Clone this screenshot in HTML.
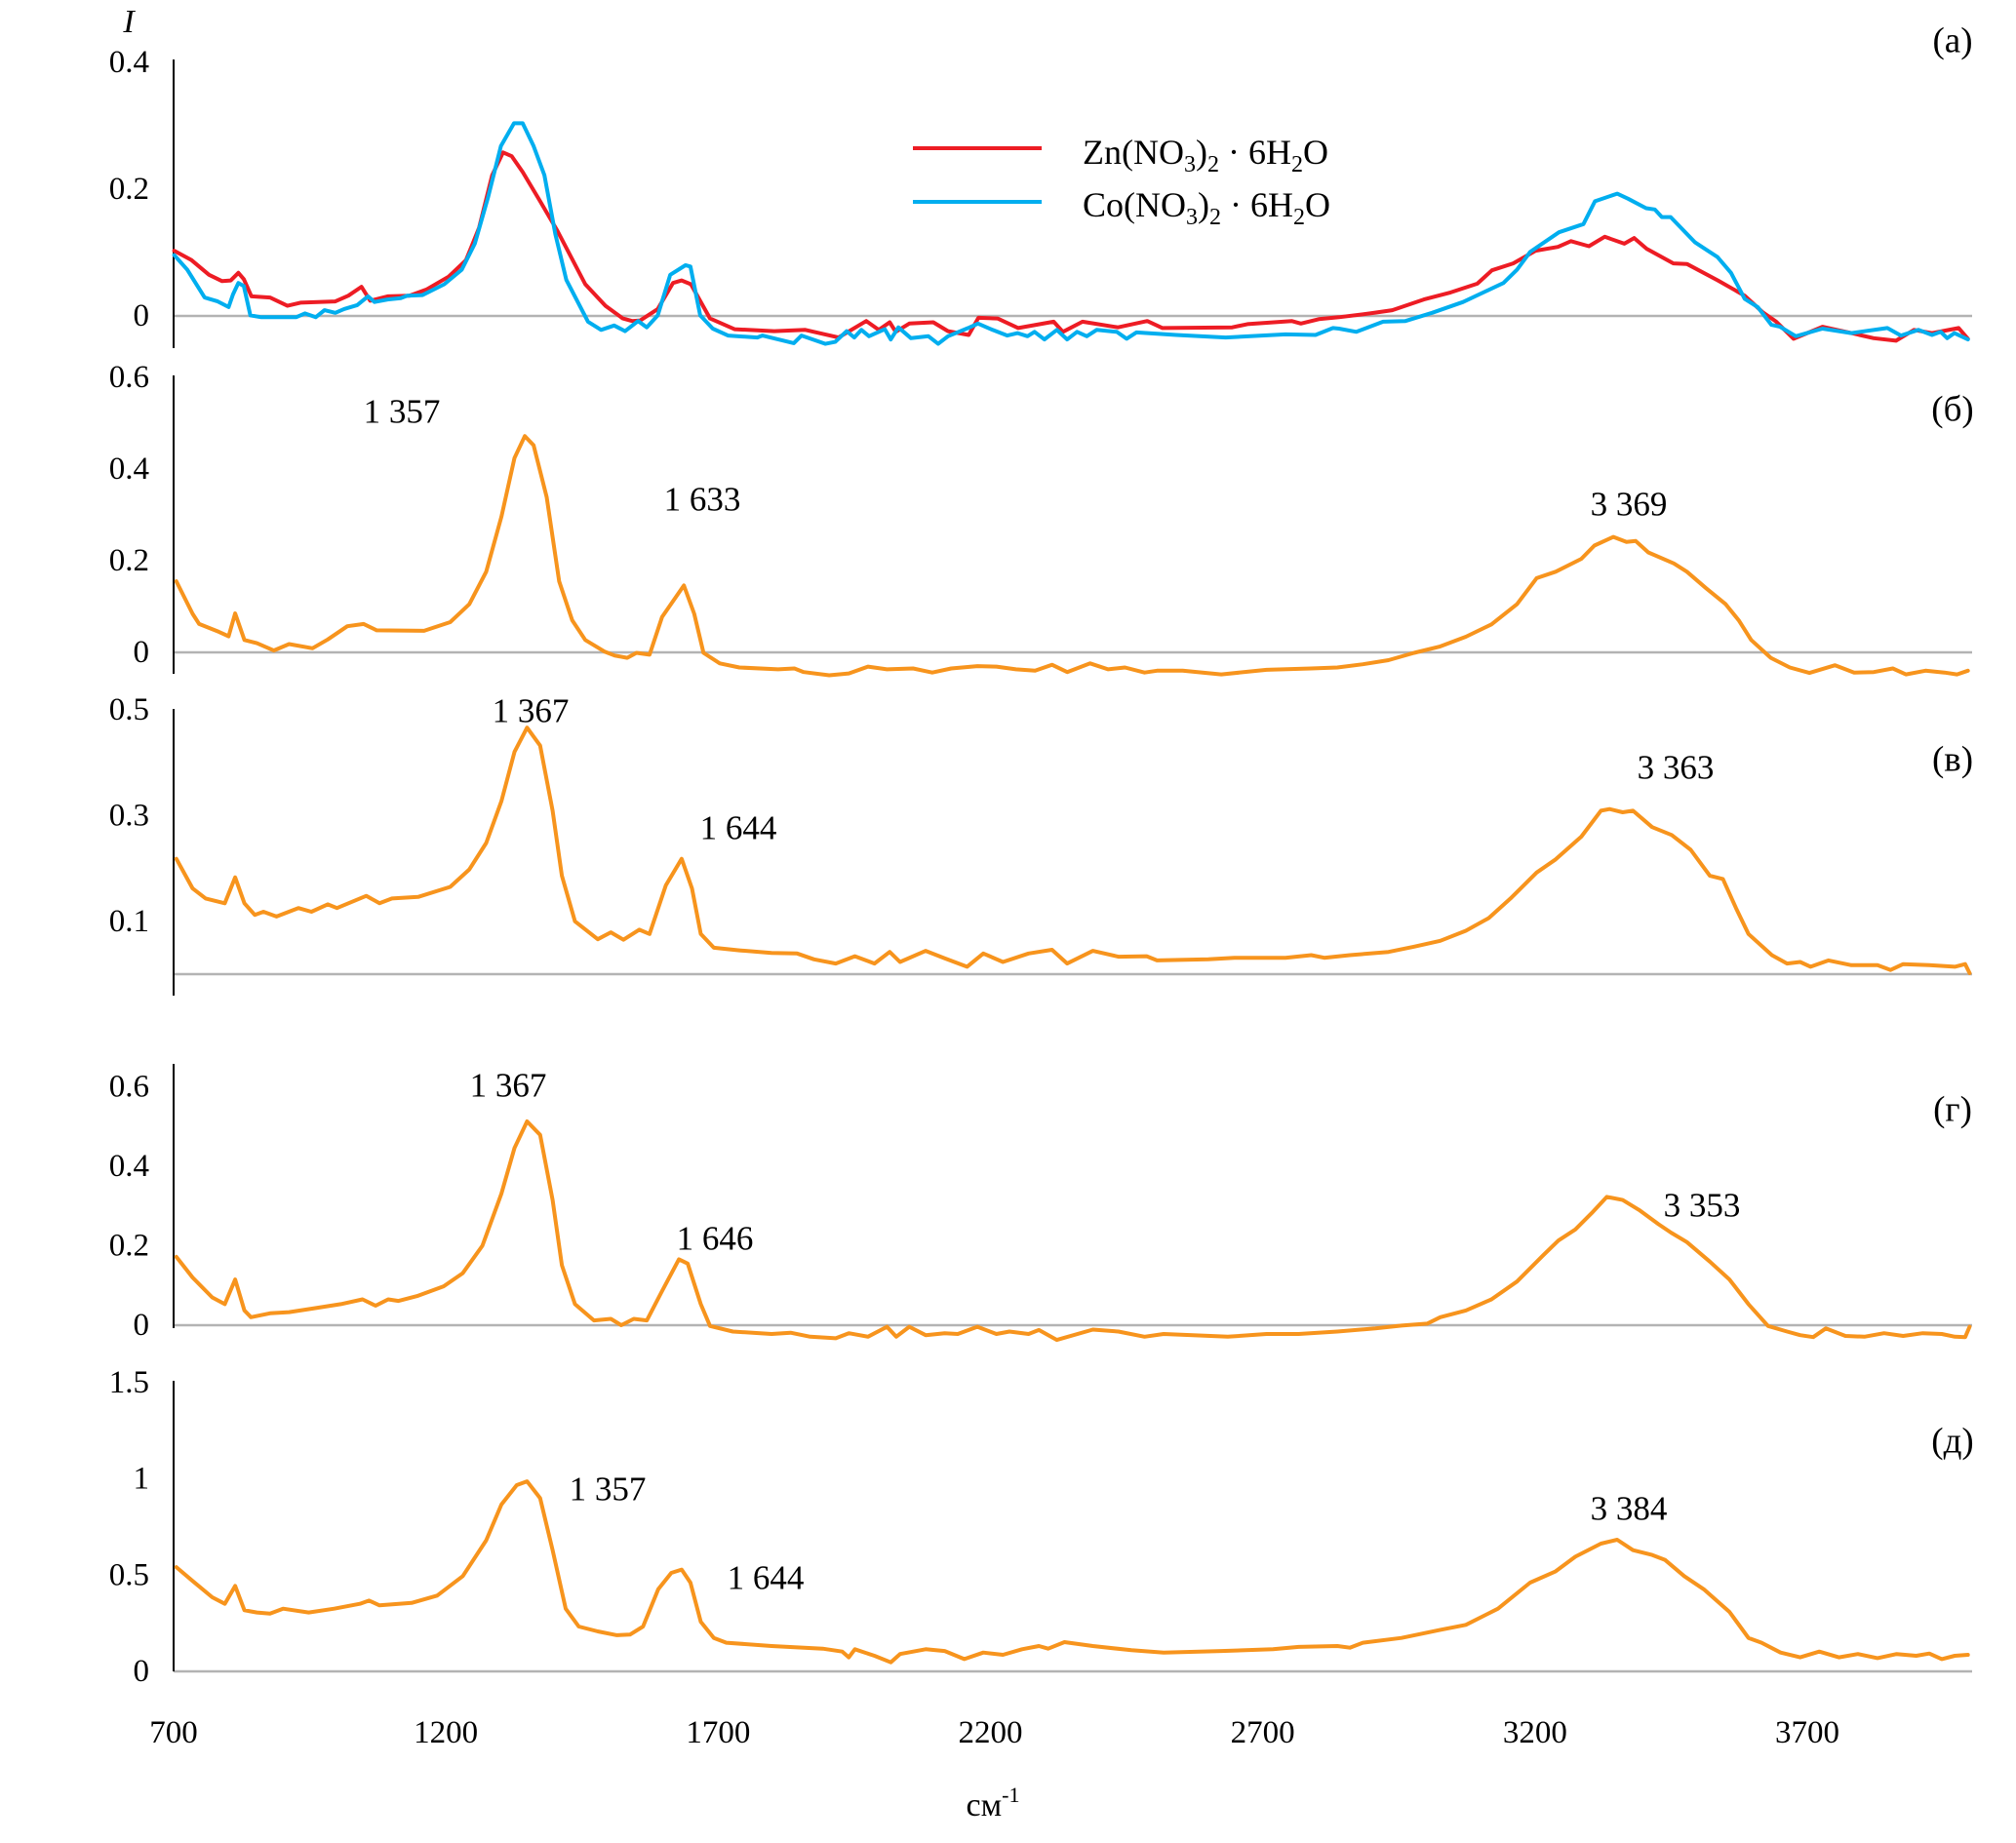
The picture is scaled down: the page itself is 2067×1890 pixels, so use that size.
<!DOCTYPE html>
<html><head><meta charset="utf-8"><style>
html,body{margin:0;padding:0;background:#fff;}
svg{display:block;}
svg text{font-family:"Liberation Serif","Times New Roman",serif;}
</style></head><body>
<svg id="chart" width="2067" height="1890" viewBox="0 0 2067 1890" xmlns="http://www.w3.org/2000/svg" font-family="Liberation Serif, serif">
<g id="panels"></g>
<g id="legend">
  <line x1="936" y1="152" x2="1068" y2="152" stroke="#ed1c24" stroke-width="4"/>
  <text x="1110" y="168" font-size="36">Zn(NO<tspan font-size="24" dy="8">3</tspan><tspan dy="-8">)</tspan><tspan font-size="24" dy="8">2</tspan><tspan dy="-8"> · 6H</tspan><tspan font-size="24" dy="8">2</tspan><tspan dy="-8">O</tspan></text>
  <line x1="936" y1="207" x2="1068" y2="207" stroke="#00aeef" stroke-width="4"/>
  <text x="1110" y="222" font-size="36">Co(NO<tspan font-size="24" dy="8">3</tspan><tspan dy="-8">)</tspan><tspan font-size="24" dy="8">2</tspan><tspan dy="-8"> · 6H</tspan><tspan font-size="24" dy="8">2</tspan><tspan dy="-8">O</tspan></text>
</g>
<text x="132" y="33" font-size="34" font-style="italic" text-anchor="middle">I</text>
<text x="1018" y="1862" font-size="34" text-anchor="middle">см<tspan font-size="22" dy="-14">-1</tspan></text>
<g id="xticks"></g>
</svg>
<script>
const xTicks=[700,1200,1700,2200,2700,3200,3700];
const redW=[701,733,765,789,805,819,829,843,877,909,933,997,1021,1045,1061,1093,1133,1165,1205,1237,1261,1285,1305,1321,1341,1373,1405,1456,1493,1525,1542,1557,1589,1617,1633,1650,1685,1730,1803,1860,1921,1972,1995,2015,2026,2051,2095,2122,2160,2178,2213,2251,2316,2333,2369,2434,2488,2516,2644,2672,2753,2770,2803,2840,2897,2938,2996,3045,3094,3121,3160,3201,3242,3266,3299,3328,3364,3382,3405,3454,3479,3536,3585,3618,3643,3675,3728,3781,3822,3863,3896,3929,3978,3995];
const redV=[0.103,0.088,0.065,0.055,0.056,0.068,0.058,0.031,0.029,0.016,0.021,0.023,0.032,0.046,0.024,0.031,0.032,0.042,0.062,0.088,0.139,0.222,0.258,0.252,0.227,0.181,0.134,0.05,0.016,-0.004,-0.008,-0.007,0.011,0.052,0.056,0.05,-0.004,-0.021,-0.024,-0.022,-0.034,-0.008,-0.022,-0.010,-0.025,-0.012,-0.010,-0.024,-0.030,-0.003,-0.004,-0.019,-0.009,-0.025,-0.009,-0.018,-0.008,-0.019,-0.018,-0.013,-0.008,-0.012,-0.005,-0.002,0.004,0.009,0.026,0.037,0.051,0.072,0.083,0.103,0.109,0.118,0.11,0.125,0.114,0.123,0.106,0.083,0.082,0.056,0.032,0.006,-0.009,-0.036,-0.017,-0.027,-0.035,-0.039,-0.022,-0.027,-0.019,-0.036];
const blueW=[701,725,757,765,781,801,809,819,829,841,861,925,941,961,977,997,1013,1037,1057,1069,1093,1117,1129,1157,1197,1229,1253,1277,1301,1325,1341,1361,1381,1401,1421,1461,1485,1509,1529,1553,1569,1589,1612,1640,1649,1667,1690,1718,1772,1781,1839,1853,1897,1915,1936,1950,1963,1977,2006,2017,2031,2054,2086,2104,2122,2159,2177,2204,2231,2250,2268,2281,2299,2322,2341,2359,2377,2395,2432,2450,2468,2541,2632,2742,2797,2829,2840,2872,2921,2962,3011,3068,3142,3167,3191,3244,3289,3310,3351,3371,3404,3420,3433,3449,3494,3535,3560,3585,3609,3634,3650,3679,3728,3781,3847,3872,3904,3929,3945,3957,3970,3995];
const blueV=[0.096,0.073,0.029,0.027,0.023,0.014,0.034,0.052,0.047,0.001,-0.002,-0.002,0.004,-0.002,0.009,0.005,0.011,0.017,0.031,0.022,0.026,0.028,0.032,0.033,0.05,0.073,0.114,0.186,0.268,0.304,0.304,0.268,0.222,0.129,0.057,-0.009,-0.022,-0.015,-0.024,-0.008,-0.018,0.001,0.065,0.08,0.078,0.001,-0.02,-0.031,-0.034,-0.031,-0.043,-0.031,-0.044,-0.041,-0.024,-0.034,-0.022,-0.032,-0.021,-0.037,-0.018,-0.035,-0.032,-0.044,-0.032,-0.019,-0.012,-0.022,-0.031,-0.027,-0.032,-0.025,-0.037,-0.022,-0.037,-0.025,-0.032,-0.022,-0.025,-0.036,-0.026,-0.03,-0.034,-0.029,-0.03,-0.019,-0.02,-0.025,-0.009,-0.008,0.005,0.022,0.052,0.073,0.101,0.132,0.145,0.181,0.193,0.185,0.17,0.168,0.156,0.156,0.116,0.093,0.068,0.027,0.014,-0.014,-0.017,-0.032,-0.02,-0.027,-0.019,-0.031,-0.022,-0.03,-0.025,-0.035,-0.027,-0.037];
const bW=[705,735,747,783,801,813,830,853,884,912,955,983,1019,1049,1073,1160,1208,1243,1274,1302,1326,1345,1361,1385,1408,1432,1456,1491,1510,1533,1550,1574,1597,1637,1656,1673,1703,1739,1810,1840,1857,1904,1940,1975,2010,2058,2093,2128,2176,2211,2247,2282,2313,2341,2383,2416,2447,2483,2506,2553,2624,2707,2789,2837,2884,2931,2978,3026,3073,3120,3167,3203,3238,3285,3309,3344,3368,3385,3408,3455,3479,3514,3550,3574,3597,3633,3668,3704,3751,3786,3822,3857,3881,3917,3952,3975,3995];
const bV=[0.155,0.084,0.062,0.045,0.035,0.085,0.027,0.020,0.004,0.018,0.009,0.028,0.057,0.062,0.048,0.047,0.066,0.105,0.176,0.296,0.424,0.472,0.452,0.339,0.155,0.07,0.027,0.002,-0.007,-0.012,-0.001,-0.005,0.077,0.146,0.084,-0.001,-0.024,-0.033,-0.037,-0.035,-0.043,-0.05,-0.046,-0.031,-0.037,-0.035,-0.044,-0.035,-0.030,-0.031,-0.037,-0.040,-0.027,-0.043,-0.024,-0.037,-0.033,-0.044,-0.040,-0.040,-0.048,-0.038,-0.035,-0.033,-0.026,-0.017,-0.001,0.013,0.034,0.061,0.105,0.162,0.176,0.204,0.233,0.252,0.241,0.243,0.218,0.194,0.176,0.14,0.105,0.07,0.027,-0.012,-0.033,-0.045,-0.028,-0.044,-0.043,-0.035,-0.048,-0.040,-0.044,-0.048,-0.040];
const vW=[705,735,759,794,813,830,849,865,889,929,953,983,1000,1054,1078,1101,1149,1208,1243,1274,1302,1326,1349,1373,1396,1413,1437,1479,1503,1526,1555,1574,1604,1633,1652,1668,1692,1739,1798,1845,1876,1916,1951,1987,2015,2034,2081,2116,2157,2187,2223,2270,2313,2341,2388,2435,2487,2506,2600,2648,2742,2789,2813,2860,2931,2978,3026,3073,3115,3155,3203,3238,3285,3321,3337,3361,3380,3415,3451,3486,3521,3545,3569,3592,3635,3663,3687,3706,3739,3781,3829,3853,3876,3924,3971,3990,3998];
const vV=[0.218,0.162,0.143,0.134,0.183,0.134,0.112,0.118,0.109,0.125,0.118,0.132,0.125,0.148,0.134,0.143,0.146,0.165,0.198,0.248,0.327,0.42,0.466,0.432,0.309,0.186,0.1,0.066,0.079,0.065,0.084,0.076,0.168,0.218,0.162,0.076,0.05,0.045,0.04,0.039,0.028,0.02,0.034,0.02,0.042,0.023,0.044,0.030,0.014,0.039,0.023,0.039,0.046,0.020,0.044,0.033,0.034,0.026,0.028,0.031,0.031,0.036,0.031,0.036,0.042,0.052,0.063,0.082,0.106,0.143,0.192,0.217,0.26,0.309,0.312,0.306,0.309,0.278,0.263,0.235,0.186,0.180,0.125,0.076,0.036,0.02,0.023,0.014,0.026,0.017,0.017,0.008,0.019,0.017,0.014,0.019,0.002];
const gW=[705,735,771,794,813,830,842,877,912,960,1007,1047,1071,1094,1113,1149,1196,1231,1267,1302,1326,1349,1373,1396,1413,1437,1472,1503,1522,1545,1569,1597,1628,1644,1668,1685,1727,1798,1833,1869,1916,1940,1975,2010,2027,2051,2081,2116,2140,2176,2211,2235,2270,2289,2322,2388,2435,2483,2518,2636,2707,2766,2837,2907,2955,3002,3026,3073,3120,3167,3215,3243,3274,3304,3332,3361,3391,3427,3450,3479,3521,3557,3592,3628,3663,3687,3711,3734,3770,3805,3841,3876,3912,3947,3971,3990,3998];
const gV=[0.172,0.12,0.07,0.053,0.115,0.037,0.02,0.03,0.033,0.043,0.053,0.065,0.049,0.065,0.061,0.074,0.098,0.131,0.2,0.331,0.446,0.513,0.479,0.315,0.151,0.053,0.012,0.016,0,0.016,0.012,0.086,0.166,0.155,0.053,-0.002,-0.016,-0.022,-0.019,-0.029,-0.033,-0.02,-0.029,-0.004,-0.029,-0.004,-0.025,-0.02,-0.022,-0.004,-0.022,-0.016,-0.022,-0.012,-0.037,-0.011,-0.016,-0.029,-0.022,-0.029,-0.022,-0.022,-0.016,-0.008,-0.001,0.004,0.02,0.037,0.065,0.11,0.176,0.213,0.241,0.282,0.323,0.315,0.29,0.254,0.233,0.209,0.16,0.115,0.053,-0.002,-0.016,-0.025,-0.03,-0.008,-0.027,-0.029,-0.02,-0.027,-0.02,-0.022,-0.029,-0.03,-0.004];
const dW=[705,735,771,794,813,830,853,877,901,948,995,1042,1059,1078,1137,1184,1231,1274,1302,1330,1349,1373,1396,1420,1444,1479,1514,1538,1562,1590,1614,1633,1649,1668,1692,1715,1798,1892,1928,1940,1951,1987,2017,2034,2081,2116,2152,2187,2223,2258,2289,2306,2336,2388,2459,2518,2624,2719,2766,2837,2860,2884,2955,3026,3073,3132,3191,3238,3274,3321,3351,3380,3415,3439,3474,3510,3557,3592,3616,3651,3687,3722,3758,3793,3829,3864,3900,3924,3947,3971,3995];
const dV=[0.542,0.47,0.385,0.351,0.444,0.318,0.306,0.30,0.326,0.306,0.326,0.351,0.368,0.343,0.356,0.394,0.495,0.681,0.867,0.968,0.988,0.9,0.63,0.326,0.233,0.208,0.188,0.191,0.233,0.427,0.512,0.529,0.461,0.258,0.174,0.149,0.132,0.118,0.103,0.073,0.115,0.081,0.047,0.090,0.115,0.106,0.064,0.098,0.086,0.115,0.132,0.118,0.152,0.132,0.110,0.098,0.106,0.115,0.127,0.132,0.123,0.149,0.174,0.216,0.242,0.326,0.461,0.52,0.596,0.664,0.684,0.63,0.605,0.579,0.495,0.427,0.309,0.174,0.149,0.098,0.073,0.103,0.073,0.090,0.069,0.090,0.081,0.093,0.064,0.081,0.086];

const X0=178, PXU=1675/3000;
function xs(w){return X0+(w-700)*PXU;}
const XEND=2022;
const NS="http://www.w3.org/2000/svg";
const panelsG=document.getElementById('panels');
function mk(tag,attrs,parent){const e=document.createElementNS(NS,tag);for(const k in attrs)e.setAttribute(k,attrs[k]);parent.appendChild(e);return e;}

const panels=[
 {key:'a',label:'(а)',zero:324,ppu:650,top:61,bot:357,ticks:[0,0.2,0.4],lx:2002,ly:42,
  series:[{w:redW,v:redV,c:'#ed1c24',n:'zn-series'},{w:blueW,v:blueV,c:'#00aeef',n:'co-series'}],ann:[]},
 {key:'b',label:'(б)',zero:669,ppu:470,top:385,bot:691,ticks:[0,0.2,0.4,0.6],lx:2002,ly:420,
  series:[{w:bW,v:bV,c:'#f7941d',n:'spectrum-b'}],ann:[['1 357',412,422],['1 633',720,512],['3 369',1670,517]]},
 {key:'v',label:'(в)',zero:999,ppu:542.5,top:727,bot:1021,ticks:[0.1,0.3,0.5],lx:2002,ly:779,
  series:[{w:vW,v:vV,c:'#f7941d',n:'spectrum-v'}],ann:[['1 367',544,729],['1 644',757,849],['3 363',1718,787]]},
 {key:'g',label:'(г)',zero:1359,ppu:407.5,top:1091,bot:1362,ticks:[0,0.2,0.4,0.6],lx:2002,ly:1138,
  series:[{w:gW,v:gV,c:'#f7941d',n:'spectrum-g'}],ann:[['1 367',521,1113],['1 646',733,1270],['3 353',1745,1236]]},
 {key:'d',label:'(д)',zero:1714,ppu:197.3,top:1416,bot:1714,ticks:[0,0.5,1,1.5],lx:2002,ly:1478,
  series:[{w:dW,v:dV,c:'#f7941d',n:'spectrum-d'}],ann:[['1 357',623,1527],['1 644',785,1618],['3 384',1670,1547]]}
];
panels.forEach(p=>{
  const g=mk('g',{},panelsG);
  
  
  const ys=v=>p.zero-v*p.ppu;
  const zl=mk('line',{x1:X0,y1:p.zero,x2:XEND,y2:p.zero,stroke:'#b3b3b3','stroke-width':2.5},g);
  
  
  const ax=mk('line',{x1:X0,y1:p.top,x2:X0,y2:p.bot,stroke:'#000','stroke-width':2},g);
  
  
  p.ticks.forEach(t=>{
    const tx=mk('text',{x:153,y:ys(t),'font-size':33,'text-anchor':'end','dominant-baseline':'central'},g);
    tx.textContent=String(t);
    
    
  });
  p.series.forEach(s=>{
    const pts=s.w.map((w,i)=>xs(w).toFixed(1)+','+ys(s.v[i]).toFixed(1)).join(' ');
    const pl=mk('polyline',{points:pts,fill:'none',stroke:s.c,'stroke-width':4,'stroke-linejoin':'round','stroke-linecap':'round'},g);
    
    
  });
  p.ann.forEach(a=>{
    const tx=mk('text',{x:a[1],y:a[2],'font-size':35,'text-anchor':'middle','dominant-baseline':'central'},g);
    tx.textContent=a[0];
    
    
  });
  const pl=mk('text',{x:p.lx,y:p.ly,'font-size':37,'text-anchor':'middle','dominant-baseline':'central'},g);
  pl.textContent=p.label;
  
  
});
const xt=document.getElementById('xticks');
xTicks.forEach(t=>{
  const tx=mk('text',{x:xs(t),y:1777,'font-size':33,'text-anchor':'middle','dominant-baseline':'central'},xt);
  tx.textContent=String(t);
  
  
});
</script>
</body></html>
